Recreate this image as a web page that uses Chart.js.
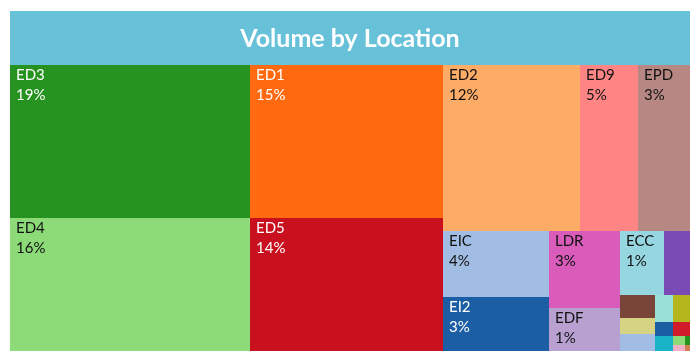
<!DOCTYPE html>
<html>
<head>
    <title>Volume by Location</title>
    <script src="https://cdn.jsdelivr.net/npm/chart.js"></script>
    <style>
        body {
            margin: 0;
            background: #ffffff;
        }
        #wrap {
            width: 700px;
            height: 363px;
        }
    </style>
</head>
<body>
    <div id="wrap"><canvas id="treemapChart"></canvas></div>

    <script>
        // locations, largest first (volumes, arbitrary units)
        const locations = ["ED3", "ED4", "ED1", "ED5", "ED2", "ED9", "EPD", "EIC", "EI2", "LDR", "EDF", "ECC",
                           "L13", "L14", "L15", "L16", "L17", "L18", "L19", "L20", "L21", "L22", "L23", "L24", "L25"];
        const volumes = [36800, 31850, 29590, 25610, 22700, 9560, 8670, 7070, 5690, 5510, 3030, 2785,
                         1646, 805, 585, 585, 490, 459, 260, 258, 238, 110, 77, 40, 28];
        const shares = ["19%", "16%", "15%", "14%", "12%", "5%", "3%", "4%", "3%", "3%", "1%", "1%",
                        "", "", "", "", "", "", "", "", "", "", "", "", ""];

        const fillColors = ["#26921f", "#8cdb78", "#ff6a10", "#c8101f", "#fdac68", "#ff8585", "#b78883",
                            "#a2bde3", "#1c5ea3", "#d95bba", "#b8a1d1", "#96d6e0", "#7b4bb5", "#7a4539",
                            "#d6d484", "#a2bde3", "#99e0d8", "#b5b51d", "#1c5ea3", "#19b3c7", "#d11b2a",
                            "#8cdb78", "#f0b0c8", "#26921f", "#d08050"];
        const whiteText = ["ED3", "ED1", "ED5", "EI2"];

        // squarified layout (golden ratio target), positions in scale units
        function squarify(values, x0, y0, x1, y1, ax, ay) {
            const ratio = (1 + Math.sqrt(5)) / 2;
            const out = [];
            const n = values.length;
            let value = values.reduce((a, b) => a + b, 0);
            let i0 = 0, i1 = 0;
            while (i0 < n) {
                const dx = x1 - x0, dy = y1 - y0;
                const vx = dx * ax, vy = dy * ay;
                let sum = values[i1++];
                let minV = sum, maxV = sum;
                const alpha = Math.max(vy / vx, vx / vy) / (value * ratio);
                let beta = sum * sum * alpha;
                let minRatio = Math.max(maxV / beta, beta / minV);
                for (; i1 < n; ++i1) {
                    const v = values[i1];
                    sum += v;
                    if (v < minV) minV = v;
                    if (v > maxV) maxV = v;
                    beta = sum * sum * alpha;
                    const r = Math.max(maxV / beta, beta / minV);
                    if (r > minRatio) { sum -= v; break; }
                    minRatio = r;
                }
                if (vx < vy) {
                    const yb = i1 >= n ? y1 : y0 + dy * sum / value;
                    let x = x0;
                    for (let i = i0; i < i1; i++) {
                        const w = dx * values[i] / sum;
                        out[i] = { x0: x, y0: y0, x1: x + w, y1: yb };
                        x += w;
                    }
                    y0 = yb;
                } else {
                    const xb = i1 >= n ? x1 : x0 + dx * sum / value;
                    let y = y0;
                    for (let i = i0; i < i1; i++) {
                        const h = dy * values[i] / sum;
                        out[i] = { x0: x0, y0: y, x1: xb, y1: y + h };
                        y += h;
                    }
                    x0 = xb;
                }
                value -= sum;
                i0 = i1;
            }
            return out;
        }

        const treemapPlugin = {
            id: "treemap",
            beforeDraw(chart) {
                // header band behind the title
                const { ctx, chartArea } = chart;
                const t = chart.titleBlock;
                ctx.save();
                ctx.fillStyle = "#67c1d9";
                ctx.fillRect(chartArea.left, Math.round(t.top), chartArea.right - chartArea.left, Math.round(chartArea.top) - Math.round(t.top));
                ctx.restore();
            },
            afterDatasetsDraw(chart) {
                const { ctx, chartArea } = chart;
                const xs = chart.scales.x, ys = chart.scales.y;
                const ax = chartArea.width / (xs.max - xs.min);
                const ay = chartArea.height / (ys.max - ys.min);
                const cells = squarify(volumes, xs.min, ys.min, xs.max, ys.max, ax, ay);

                ctx.save();
                cells.forEach((c, i) => {
                    const left = Math.round(xs.getPixelForValue(c.x0));
                    const right = Math.round(xs.getPixelForValue(c.x1));
                    const top = Math.round(ys.getPixelForValue(c.y0));
                    const bottom = Math.round(ys.getPixelForValue(c.y1));
                    ctx.fillStyle = fillColors[i];
                    ctx.fillRect(left, top, right - left, bottom - top);

                    if (right - left >= 40 && bottom - top >= 40) {
                        ctx.fillStyle = whiteText.includes(locations[i]) ? "#ffffff" : "#111111";
                        ctx.font = "15px Lato";
                        ctx.textBaseline = "alphabetic";
                        ctx.fillText(locations[i], left + 6, top + 15);
                        ctx.fillText(shares[i], left + 6, top + 35);
                    }
                });
                ctx.restore();
            }
        };

        new Chart(document.getElementById("treemapChart"), {
            type: "scatter",
            data: { datasets: [{ data: [] }] },
            options: {
                responsive: true,
                maintainAspectRatio: false,
                animation: false,
                layout: { padding: { left: 10, right: 10, top: 11, bottom: 12 } },
                scales: {
                    x: { type: "linear", min: 0, max: 100, display: false },
                    y: { type: "linear", min: 0, max: 100, reverse: true, display: false }
                },
                plugins: {
                    legend: { display: false },
                    tooltip: { enabled: false },
                    title: {
                        display: true,
                        text: "Volume by Location",
                        color: "#ffffff",
                        font: { family: "Lato", size: 25, weight: "bold" },
                        padding: { top: 13, bottom: 11.4 }
                    }
                }
            },
            plugins: [treemapPlugin]
        });
    </script>
</body>
</html>
